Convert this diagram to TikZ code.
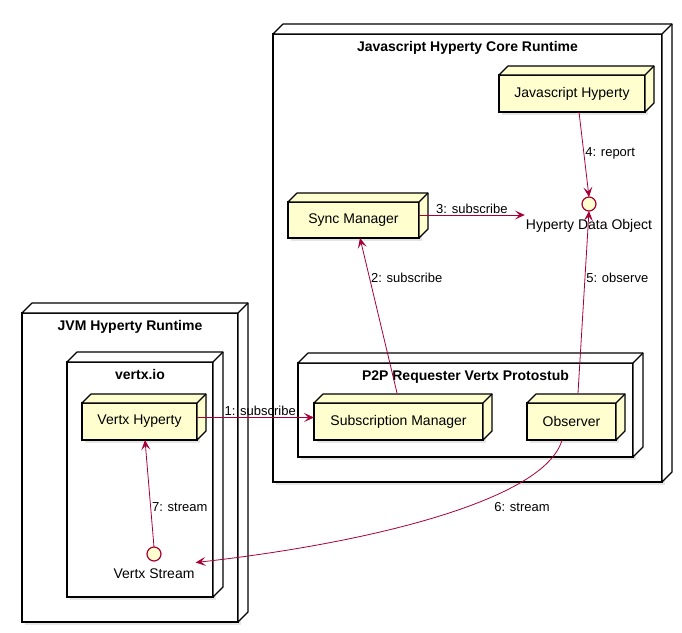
\documentclass[tikz,border=0pt]{standalone}
\usepackage{fontspec}
\setmainfont{Liberation Sans}
\usetikzlibrary{positioning,arrows.meta,shadows}
\definecolor{boxfill}{HTML}{FEFECE}
\definecolor{linkred}{HTML}{A80036}

\begin{document}
\begin{tikzpicture}[x=1pt, y=-1pt,
	front/.style={draw, line width=1.2pt, rectangle, inner sep=0pt, outer sep=0pt, drop shadow={opacity=0.2, shadow xshift=3pt, shadow yshift=-3pt}},
	runtime/.style={front, fill=white},
	part/.style={front, fill=boxfill, font=\fontsize{14}{16}\selectfont},
	title/.style={font=\fontsize{14}{16}\selectfont\bfseries, inner sep=2pt},
	iface/.style={circle, draw=linkred, line width=1.2pt, fill=boxfill, minimum size=14pt, inner sep=0pt, outer sep=0pt},
	ifacename/.style={font=\fontsize{14}{16}\selectfont, inner sep=1pt},
	link/.style={draw=linkred, line width=0.8pt, -{Stealth[length=10pt, width=9pt, inset=4.5pt]}},
	linklabel/.style={font=\fontsize{13}{15}\selectfont, inner sep=1pt}]
		\useasboundingbox (0,0) rectangle (682,632);
		
		\node[runtime, minimum width=389pt, minimum height=448pt] (core) at (467.5,258) {};
		\node[title, below=5pt of core.north] (coreTitle) {Javascript Hyperty Core Runtime};
		\node[runtime, minimum width=335pt, minimum height=94pt] (p2p) at (465.5,410) {};
		\node[title, below=5pt of p2p.north] (p2pTitle) {P2P Requester Vertx Protostub};
		
		\node[runtime, minimum width=216pt, minimum height=309pt] (jvm) at (130,467.5) {};
		\node[title, below=5pt of jvm.north] (jvmTitle) {JVM Hyperty Runtime};
		\node[runtime, minimum width=146pt, minimum height=235pt] (vertx) at (140,479.5) {};
		\node[title, below=5pt of vertx.north] (vertxTitle) {vertx.io};
		
		\node[part, minimum width=146pt, minimum height=37pt] (jsHyp) at (572,93.5) {Javascript Hyperty};
		\node[part, minimum width=131pt, minimum height=36pt] (sync) at (353.5,220) {Sync Manager};
		\node[part, minimum width=169pt, minimum height=37pt] (subMgr) at (398.5,421.5) {Subscription Manager};
		\node[part, minimum width=89pt, minimum height=37pt] (observer) at (571.5,421.5) {Observer};
		\node[part, minimum width=115pt, minimum height=37pt] (vertxHyp) at (139.5,421.5) {Vertx Hyperty};
		
		\foreach \n/\c/\d in {core/white/10, p2p/white/10, jvm/white/10, vertx/white/10, jsHyp/boxfill/9, sync/boxfill/9, subMgr/boxfill/9, observer/boxfill/9, vertxHyp/boxfill/9}
		{
			\draw[line width=1.2pt, fill=\c, line join=round] (\n.north west) -- ++(\d,-\d) -- ([shift={(\d,-\d)}]\n.north east) -- ([shift={(\d,-\d)}]\n.south east) -- (\n.south east) -- (\n.north east) -- cycle;
			\draw[line width=1.2pt] (\n.north east) -- ++(\d,-\d);
		}
		
		\node[iface] (hdo) at (589,204) {};
		\node[ifacename, below=7pt of hdo] (hdoName) {Hyperty Data Object};
		\node[iface] (vs) at (154,554) {};
		\node[ifacename, below=6.5pt of vs] (vsName) {Vertx Stream};
		\coordinate (syncOut) at ([yshift=5pt]sync.east);
		
		\draw[link] ([yshift=4pt]vertxHyp.east) -- ([yshift=4pt]subMgr.west) node[linklabel, above, pos=0.54] {1: subscribe};
		\draw[link] ([xshift=-1.5pt, yshift=10pt]subMgr.north) -- ([xshift=6.5pt]sync.south) node[linklabel, right, pos=0.74] {2: subscribe};
		\draw[link] (syncOut) -- (syncOut -| hdoName.west) node[linklabel, above, pos=0.5] {3: subscribe};
		\draw[link] ([xshift=7pt]jsHyp.south) -- (hdo.north) node[linklabel, right, pos=0.49] {4: report};
		\draw[link] ([xshift=6.5pt, yshift=10pt]observer.north) -- (hdo.south) node[linklabel, right, pos=0.63] {5: observe};
		\draw[link] ([xshift=-9.5pt]observer.south) .. controls (545,500) and (370,543) .. ([yshift=5pt]vsName.north east) node[linklabel, pos=0.35, anchor=north west, yshift=-5pt] {6: stream};
		\draw[link] (vs.north) -- ([xshift=5.5pt]vertxHyp.south) node[linklabel, right, pos=0.37] {7: stream};
\end{tikzpicture}
\end{document}
